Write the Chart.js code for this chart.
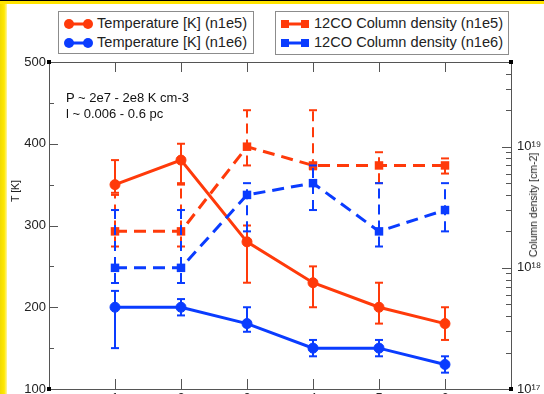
<!DOCTYPE html>
<html lang="en">
<head>
  <meta charset="utf-8" />
  <title>Temperature and 12CO column density</title>
  <style>
    html, body {
      margin: 0;
      padding: 0;
      width: 544px;
      height: 394px;
      overflow: hidden;
      background: #fff;
      font-family: 'Liberation Sans', Arial, sans-serif;
    }
    #wrap {
      position: absolute;
      left: 0;
      top: 0;
      width: 544px;
      height: 420px;
    }
    .edge-left {
      position: absolute;
      left: 0; top: 0;
      width: 7px; height: 394px;
      background: linear-gradient(to right, #f0da00 0%, #ffe800 60%, #fff6a0 100%);
    }
    .edge-top {
      position: absolute;
      left: 0; top: 0;
      width: 544px; height: 4px;
      box-sizing: border-box;
      border-top: 1px solid #000;
      background: #ffe400;
    }
    .legend {
      position: absolute;
      border: 1px solid #8c8c8c;
      background: #fff;
      color: #222;
      font-size: 14.6px;
      box-sizing: border-box;
    }
    .legend .row {
      position: relative;
      height: 19px;
      line-height: 19px;
      white-space: nowrap;
    }
    .legend svg {
      position: absolute;
      left: 4px;
      top: 4px;
    }
    .legend .txt {
      position: absolute;
      left: 38px;
      top: 0;
    }
    .note {
      position: absolute;
      left: 66px;
      font-size: 13px;
      color: #111;
      white-space: nowrap;
    }
    .axis-title {
      position: absolute;
      font-size: 10.5px;
      color: #222;
      white-space: nowrap;
      transform: translate(-50%, -50%) rotate(-90deg);
    }
  </style>
</head>
<body>
  <div id="wrap"><canvas id="chart"></canvas></div>
  <div class="edge-left"></div>
  <div class="edge-top"></div>

  <div class="legend" style="left:58px; top:11px; width:196px; height:43px; padding-top:2px;">
    <div class="row">
      <svg width="32" height="12"><line x1="6" y1="6" x2="25" y2="6" stroke="#ff3a0a" stroke-width="3"/><circle cx="6" cy="6" r="5" fill="#ff3a0a"/><circle cx="25" cy="6" r="5" fill="#ff3a0a"/></svg>
      <span class="txt">Temperature [K] (n1e5)</span>
    </div>
    <div class="row">
      <svg width="32" height="12"><line x1="6" y1="6" x2="25" y2="6" stroke="#0a3cff" stroke-width="3"/><circle cx="6" cy="6" r="5" fill="#0a3cff"/><circle cx="25" cy="6" r="5" fill="#0a3cff"/></svg>
      <span class="txt">Temperature [K] (n1e6)</span>
    </div>
  </div>

  <div class="legend" style="left:275px; top:11px; width:234px; height:44px; padding-top:2px;">
    <div class="row">
      <svg width="32" height="12"><line x1="6" y1="6" x2="26" y2="6" stroke="#ff3a0a" stroke-width="3"/><rect x="1" y="2" width="8" height="8" fill="#ff3a0a"/><rect x="21" y="2" width="8" height="8" fill="#ff3a0a"/></svg>
      <span class="txt">12CO Column density (n1e5)</span>
    </div>
    <div class="row">
      <svg width="32" height="12"><line x1="6" y1="6" x2="26" y2="6" stroke="#0a3cff" stroke-width="3"/><rect x="1" y="2" width="8" height="8" fill="#0a3cff"/><rect x="21" y="2" width="8" height="8" fill="#0a3cff"/></svg>
      <span class="txt">12CO Column density (n1e6)</span>
    </div>
  </div>

  <div class="note" style="top:90px;">P ~ 2e7 - 2e8 K cm-3</div>
  <div class="note" style="top:106px;">l ~ 0.006 - 0.6 pc</div>

  <div class="axis-title" style="left:15px; top:191px;">T [K]</div>
  <div class="axis-title" style="left:533px; top:205px;">Column density [cm-2]</div>

  <script src="https://cdn.jsdelivr.net/npm/chart.js"></script>
  <script>
    const RED = '#ff3a0a';
    const BLUE = '#0a3cff';

    // model index on the x axis
    const categories = [1, 2, 3, 4, 5, 6];

    // temperature [K], left axis
    const tempN1e5   = [350, 380, 280, 230, 200, 180];
    const tempN1e5Lo = [340, 350, 230, 200, 180, 160];
    const tempN1e5Hi = [380, 400, 300, 250, 230, 200];
    const tempN1e6   = [200, 200, 180, 150, 150, 130];
    const tempN1e6Lo = [150, 190, 170, 140, 140, 120];
    const tempN1e6Hi = [220, 210, 200, 160, 160, 140];

    // 12CO column density [cm-2], right log axis
    const colN1e5   = [2e18, 2e18, 1e19, 7e18, 7e18, 7e18];
    const colN1e5Lo = [1.5e18, 1.5e18, 7e18, 6.5e18, 5e18, 6e18];
    const colN1e5Hi = [4e18, 5e18, 2e19, 2e19, 9e18, 8e18];
    const colN1e6   = [1e18, 1e18, 4e18, 5e18, 2e18, 3e18];
    const colN1e6Lo = [7.5e17, 7.5e17, 2e18, 3e18, 1.5e18, 2e18];
    const colN1e6Hi = [3e18, 3e18, 5e18, 7e18, 5e18, 5e18];

    // axis ticks
    const xTickValues = [1, 2, 3, 4, 5, 6];
    const tempMajorTicks = [100, 200, 300, 400, 500];
    const tempMinorTicks = [150, 250, 350, 450];
    const colMajorTicks = [1e17, 1e18, 1e19];
    const colMinorTicks = [];
    for (const dec of [1e17, 1e18, 1e19]) {
      for (let m = 2; m <= 9; m++) {
        if (m * dec <= 5e19) colMinorTicks.push(m * dec);
      }
    }

    const points = (vals) => categories.map((c, i) => ({ x: c, y: vals[i] }));

    // error bars: one segment per category, separated by null gaps
    const errBars = (lo, hi) => {
      const out = [];
      categories.forEach((c, i) => {
        out.push({ x: c, y: lo[i] }, { x: c, y: hi[i] }, { x: c, y: null });
      });
      return out;
    };

    const supDigits = { '0': '⁰', '1': '¹', '2': '²', '3': '³', '4': '⁴', '5': '⁵', '6': '⁶', '7': '⁷', '8': '⁸', '9': '⁹' };
    const powLabel = v => {
      const p = Math.round(Math.log10(v));
      return '10' + String(p).split('').map(d => supDigits[d]).join('');
    };

    const innerTicks = {
      id: 'innerTicks',
      afterDraw(chart) {
        const { ctx, chartArea: a, scales } = chart;
        ctx.save();
        ctx.strokeStyle = '#555';
        ctx.lineWidth = 1;
        ctx.beginPath();
        // top frame line
        ctx.moveTo(a.left, a.top + 0.5);
        ctx.lineTo(a.right, a.top + 0.5);
        for (const v of xTickValues) {
          const px = Math.round(scales.x.getPixelForValue(v)) + 0.5;
          ctx.moveTo(px, a.top); ctx.lineTo(px, a.top + 10);
          ctx.moveTo(px, a.bottom); ctx.lineTo(px, a.bottom - 10);
        }
        for (const v of tempMajorTicks) {
          const py = Math.round(scales.y.getPixelForValue(v)) + 0.5;
          ctx.moveTo(a.left, py); ctx.lineTo(a.left + 9, py);
        }
        for (const v of tempMinorTicks) {
          const py = Math.round(scales.y.getPixelForValue(v)) + 0.5;
          ctx.moveTo(a.left, py); ctx.lineTo(a.left + 5, py);
        }
        for (const v of colMajorTicks) {
          const py = Math.round(scales.y2.getPixelForValue(v)) + 0.5;
          ctx.moveTo(a.right, py); ctx.lineTo(a.right - 9, py);
        }
        for (const v of colMinorTicks) {
          const py = Math.round(scales.y2.getPixelForValue(v)) + 0.5;
          ctx.moveTo(a.right, py); ctx.lineTo(a.right - 5, py);
        }
        ctx.stroke();
        ctx.fillStyle = '#000';
        for (const [x, y] of [[a.left, a.top], [a.right, a.top], [a.left, a.bottom], [a.right, a.bottom]]) {
          ctx.fillRect(x - 2, y - 2, 4, 4);
        }
        ctx.restore();
      }
    };

    new Chart(document.getElementById('chart'), {
      type: 'line',
      data: {
        datasets: [
          {
            label: 'Temperature [K] (n1e5) error',
            data: errBars(tempN1e5Lo, tempN1e5Hi),
            yAxisID: 'y', order: 8,
            borderColor: RED, borderWidth: 2, spanGaps: false,
            pointStyle: 'line', pointRadius: 4, pointBorderWidth: 2, pointBorderColor: RED
          },
          {
            label: 'Temperature [K] (n1e5)',
            data: points(tempN1e5),
            yAxisID: 'y', order: 7,
            borderColor: RED, backgroundColor: RED, borderWidth: 3,
            pointStyle: 'circle', pointRadius: 5, pointBorderWidth: 1
          },
          {
            label: 'Temperature [K] (n1e6) error',
            data: errBars(tempN1e6Lo, tempN1e6Hi),
            yAxisID: 'y', order: 6,
            borderColor: BLUE, borderWidth: 2, spanGaps: false,
            pointStyle: 'line', pointRadius: 4, pointBorderWidth: 2, pointBorderColor: BLUE
          },
          {
            label: 'Temperature [K] (n1e6)',
            data: points(tempN1e6),
            yAxisID: 'y', order: 5,
            borderColor: BLUE, backgroundColor: BLUE, borderWidth: 3,
            pointStyle: 'circle', pointRadius: 5, pointBorderWidth: 1
          },
          {
            label: '12CO Column density (n1e5) error',
            data: errBars(colN1e5Lo, colN1e5Hi),
            yAxisID: 'y2', order: 4,
            borderColor: RED, borderWidth: 2, borderDash: [10, 6], spanGaps: false,
            pointStyle: 'line', pointRadius: 4, pointBorderWidth: 2, pointBorderColor: RED
          },
          {
            label: '12CO Column density (n1e5)',
            data: points(colN1e5),
            yAxisID: 'y2', order: 3,
            borderColor: RED, backgroundColor: RED, borderWidth: 3, borderDash: [12, 7],
            pointStyle: 'rect', pointRadius: 6, pointBorderWidth: 0
          },
          {
            label: '12CO Column density (n1e6) error',
            data: errBars(colN1e6Lo, colN1e6Hi),
            yAxisID: 'y2', order: 2,
            borderColor: BLUE, borderWidth: 2, borderDash: [10, 6], spanGaps: false,
            pointStyle: 'line', pointRadius: 4, pointBorderWidth: 2, pointBorderColor: BLUE
          },
          {
            label: '12CO Column density (n1e6)',
            data: points(colN1e6),
            yAxisID: 'y2', order: 1,
            borderColor: BLUE, backgroundColor: BLUE, borderWidth: 3, borderDash: [12, 7],
            pointStyle: 'rect', pointRadius: 6, pointBorderWidth: 0
          }
        ]
      },
      options: {
        responsive: true,
        maintainAspectRatio: false,
        animation: false,
        layout: { padding: { left: 0, right: 0, top: 62, bottom: 0 } },
        plugins: {
          legend: { display: false },
          tooltip: { enabled: false }
        },
        scales: {
          x: {
            type: 'linear',
            min: 0, max: 7,
            grid: { display: false, drawTicks: false },
            border: { color: '#555' },
            ticks: {
              stepSize: 1, padding: 2, color: '#222',
              font: { family: "'Liberation Sans', Arial, sans-serif", size: 13 },
              maxRotation: 0,
              callback: v => (v >= 1 && v <= 6) ? String(v) : ''
            },
            afterFit: s => { s.height = 31; }
          },
          y: {
            type: 'linear',
            position: 'left',
            min: 100, max: 500,
            grid: { display: false, drawTicks: false },
            border: { color: '#555' },
            ticks: {
              stepSize: 100, padding: 3, color: '#222',
              font: { family: "'Liberation Sans', Arial, sans-serif", size: 13 }
            },
            afterFit: s => { s.width = 49; }
          },
          y2: {
            type: 'logarithmic',
            position: 'right',
            min: 1e17, max: 5e19,
            grid: { display: false, drawTicks: false },
            border: { color: '#555' },
            afterBuildTicks: s => { s.ticks = colMajorTicks.map(v => ({ value: v })); },
            ticks: {
              padding: 6, color: '#222',
              font: { family: "'Liberation Sans', Arial, sans-serif", size: 13 },
              callback: v => powLabel(v)
            },
            afterFit: s => { s.width = 33; }
          }
        }
      },
      plugins: [innerTicks]
    });
  </script>
</body>
</html>
